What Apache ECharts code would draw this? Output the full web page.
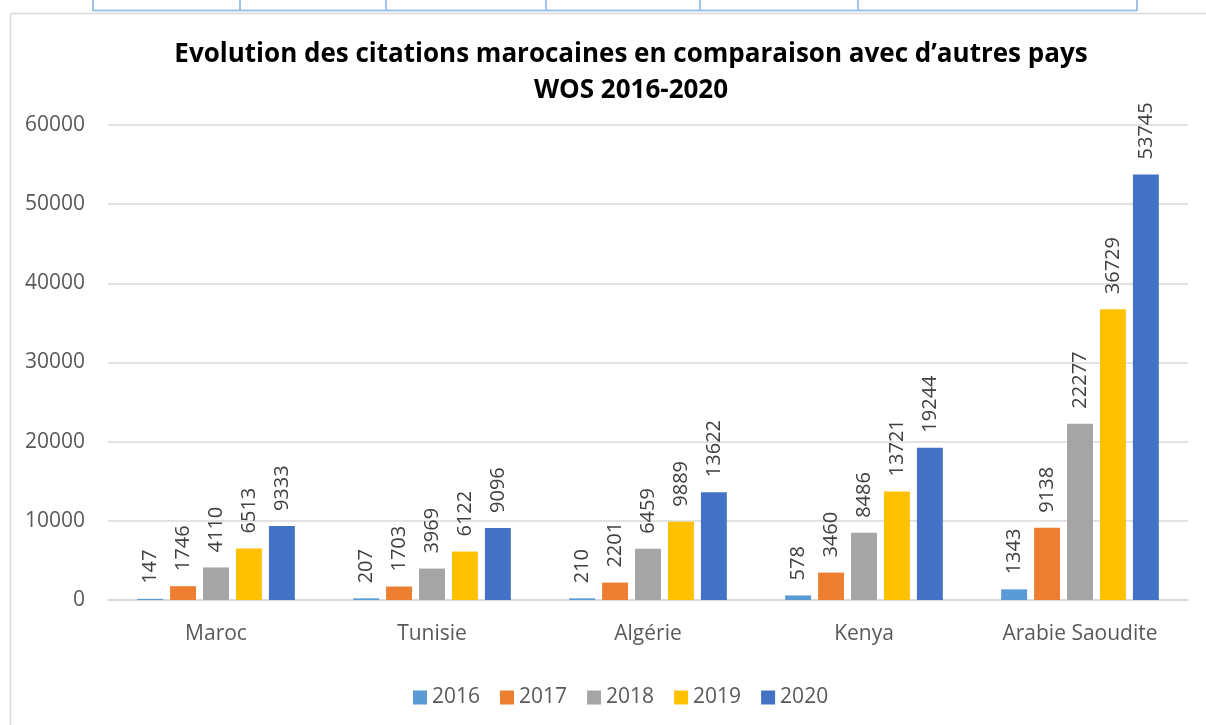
<!DOCTYPE html>
<html>
<head>
<meta charset="utf-8">
<script src="https://cdn.jsdelivr.net/npm/echarts@6/dist/echarts.min.js"></script>
<style>
  html, body { margin: 0; padding: 0; background: #fff; }
  #chart { width: 1206px; height: 725px; }
</style>
</head>
<body>
<div id="chart"></div>
<script>
const countries = ["Maroc", "Tunisie", "Algérie", "Kenya", "Arabie Saoudite"];
const years = ["2016", "2017", "2018", "2019", "2020"];
const y2016 = [147, 207, 210, 578, 1343];
const y2017 = [1746, 1703, 2201, 3460, 9138];
const y2018 = [4110, 3969, 6459, 8486, 22277];
const y2019 = [6513, 6122, 9889, 13721, 36729];
const y2020 = [9333, 9096, 13622, 19244, 53745];
const colors = ["#5B9BD5", "#ED7D31", "#A5A5A5", "#FFC000", "#4472C4"];

const values = [y2016, y2017, y2018, y2019, y2020];
const font = "'Open Sans', sans-serif";

const chart = echarts.init(document.getElementById("chart"));

// table border fragment above the chart + chart frame
const tableX = [93, 240, 386, 546, 700, 858, 1137];
const deco = [
  { type: "line", shape: { x1: 93, y1: 10.5, x2: 1137, y2: 10.5 }, style: { stroke: "#9DC3E6", lineWidth: 2 } },
  { type: "line", shape: { x1: 10.5, y1: 13.5, x2: 1206, y2: 13.5 }, style: { stroke: "#d9d9d9", lineWidth: 1.5 } },
  { type: "line", shape: { x1: 10.5, y1: 13.5, x2: 10.5, y2: 725 }, style: { stroke: "#d9d9d9", lineWidth: 1.5 } }
];
tableX.forEach(x => {
  deco.push({ type: "line", shape: { x1: x, y1: 0, x2: x, y2: 11 }, style: { stroke: "#9DC3E6", lineWidth: 2 } });
});

const option = {
  backgroundColor: "#fff",
  animation: false,
  title: {
    text: "Evolution des citations marocaines en comparaison avec d’autres pays\nWOS 2016-2020",
    left: 626,
    textAlign: "center",
    top: 32,
    textStyle: { fontFamily: font, fontWeight: "bold", fontSize: 26, color: "#000", lineHeight: 36 }
  },
  legend: {
    data: years,
    top: 682,
    left: 408,
    itemWidth: 14,
    itemHeight: 14,
    itemGap: 20,
    icon: "rect",
    textStyle: { fontFamily: font, fontSize: 21, color: "#595959" }
  },
  grid: { left: 108, right: 18, top: 125, bottom: 125 },
  xAxis: {
    type: "category",
    data: countries,
    axisLine: { lineStyle: { color: "#d9d9d9", width: 1.5 } },
    axisTick: { show: false },
    axisLabel: { fontFamily: font, fontSize: 21, color: "#595959", margin: 24 }
  },
  yAxis: {
    type: "value",
    min: 0,
    max: 60000,
    interval: 10000,
    axisLine: { show: false },
    axisTick: { show: false },
    axisLabel: { fontFamily: font, fontSize: 21, color: "#595959", margin: 23, formatter: v => String(v) },
    splitLine: { lineStyle: { color: "#d9d9d9", width: 1.5 } }
  },
  series: years.map((y, i) => ({
    name: y,
    type: "bar",
    data: values[i],
    barGap: "27%",
    barCategoryGap: "27%",
    itemStyle: { color: colors[i] },
    label: {
      show: true,
      position: "top",
      rotate: 90,
      align: "left",
      verticalAlign: "middle",
      distance: 15,
      fontFamily: font,
      fontSize: 20,
      color: "#404040"
    }
  })),
  graphic: deco
};

chart.setOption(option);
</script>
</body>
</html>
